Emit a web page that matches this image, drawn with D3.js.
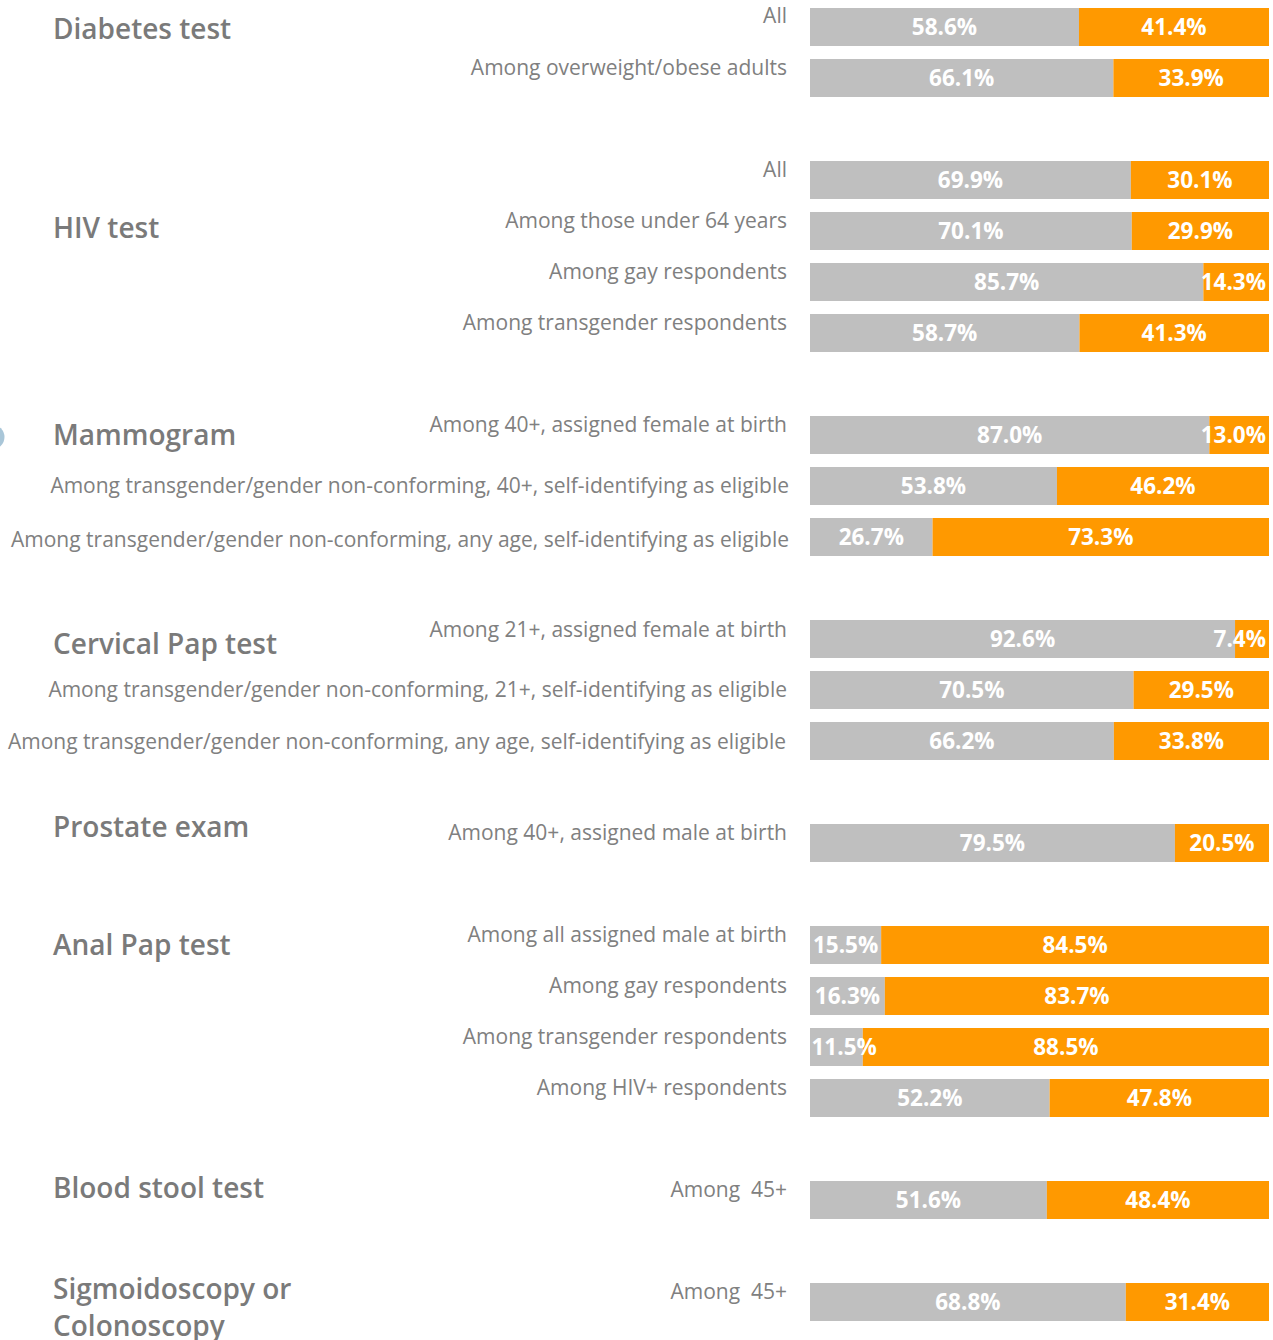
<!DOCTYPE html>
<html><head><meta charset="utf-8">
<script src="https://cdn.jsdelivr.net/npm/d3@7"></script>
<style>html,body{margin:0;padding:0;background:#fff;overflow:hidden}</style>
</head><body>
<svg id="chart" width="1273" height="1340"></svg>
<script>
const groups = ["Diabetes test","HIV test","Mammogram","Cervical Pap test","Prostate exam","Anal Pap test","Blood stool test","Sigmoidoscopy or Colonoscopy"];
const rowLabels = [
 "All","Among overweight/obese adults",
 "All","Among those under 64 years","Among gay respondents","Among transgender respondents",
 "Among 40+, assigned female at birth","Among transgender/gender non-conforming, 40+, self-identifying as eligible","Among transgender/gender non-conforming, any age, self-identifying as eligible",
 "Among 21+, assigned female at birth","Among transgender/gender non-conforming, 21+, self-identifying as eligible","Among transgender/gender non-conforming, any age, self-identifying as eligible",
 "Among 40+, assigned male at birth",
 "Among all assigned male at birth","Among gay respondents","Among transgender respondents","Among HIV+ respondents",
 "Among  45+",
 "Among  45+"
];
const rowGroup = [0,0, 1,1,1,1, 2,2,2, 3,3,3, 4, 5,5,5,5, 6, 7];
const grayValues   = [58.6,66.1, 69.9,70.1,85.7,58.7, 87.0,53.8,26.7, 92.6,70.5,66.2, 79.5, 15.5,16.3,11.5,52.2, 51.6, 68.8];
const orangeValues = [41.4,33.9, 30.1,29.9,14.3,41.3, 13.0,46.2,73.3, 7.4,29.5,33.8, 20.5, 84.5,83.7,88.5,47.8, 48.4, 31.4];

// layout (not data)
const labelOffset = [-11,-10, -10,-10,-10,-10, -10,0,3, -9,0,1, -10, -10,-10,-10,-10, -10, -10];
const labelRight  = [787,787, 787,787,787,787, 787,789,789, 787,787,786, 787, 787,787,787,787, 787, 787];
const titleOffset = [2, 48, 0, 5, -16, 0, -12, -13];

const svg = d3.select("#chart");
const slot = rowGroup.map((g,i)=>i+g);
const y = d3.scaleLinear().domain([0,25]).range([27,1302]);
const x = d3.scaleLinear().domain([0,100]).range([810,1269]);
const barH = 38;
const font = "'Open Sans', 'DejaVu Sans', sans-serif";
const textCol = "#808080";

svg.append("circle").attr("cx",-8).attr("cy",437).attr("r",12.5).attr("fill","#a9c6d8");

const rows = rowLabels.map((l,i)=>({label:l,g:rowGroup[i],gray:grayValues[i],orange:orangeValues[i],s:slot[i],i}));

const rg = svg.selectAll("g.row").data(rows).join("g").attr("class","row");
rg.append("rect").attr("x",x(0)).attr("y",d=>y(d.s)-barH/2).attr("width",d=>x(d.gray)-x(0)).attr("height",barH).attr("fill","#bfbfbf");
rg.append("rect").attr("x",d=>x(d.gray)).attr("y",d=>y(d.s)-barH/2).attr("width",d=>Math.min(x(d.gray+d.orange),x(100))-x(d.gray)).attr("height",barH).attr("fill","#ff9900");

function valueLabel(sel, cxFn, txtFn){
  sel.append("text").attr("y",d=>y(d.s)).attr("dy","0.37em")
    .attr("text-anchor","start").attr("fill","#fff").attr("font-family",font).attr("font-weight",700).attr("font-size",22.5)
    .text(txtFn)
    .each(function(d){
      const w = this.getComputedTextLength();
      let left = cxFn(d) - w/2;
      if (left + w > x(100) - 3) left = x(100) - 3 - w;
      if (left < x(0) + 1.5) left = x(0) + 1.5;
      d3.select(this).attr("x", left);
    });
}
valueLabel(rg, d=>(x(0)+x(d.gray))/2, d=>d.gray.toFixed(1)+"%");
valueLabel(rg, d=>(x(d.gray)+Math.min(x(d.gray+d.orange),x(100)))/2, d=>d.orange.toFixed(1)+"%");

rg.append("text").attr("x",d=>labelRight[d.i]).attr("y",d=>y(d.s)+labelOffset[d.i]).attr("dy","0.35em")
  .attr("text-anchor","end").attr("fill",textCol).attr("font-family",font).attr("font-size",21)
  .attr("xml:space","preserve").style("white-space","pre")
  .text(d=>d.label);

// titles
groups.forEach((gname,gi)=>{
  const first = rows.find(r=>r.g===gi);
  const cy = y(first.s)+titleOffset[gi];
  const t = svg.append("text").attr("x",53).attr("y",cy).attr("dy","0.35em")
    .attr("fill","#7a7a7a").attr("font-family",font).attr("font-weight",600).attr("font-size",28);
  if(gname==="Sigmoidoscopy or Colonoscopy"){
    t.append("tspan").attr("x",53).text("Sigmoidoscopy or");
    t.append("tspan").attr("x",53).attr("dy","1.33em").text("Colonoscopy");
  } else t.text(gname);
});
</script>
</body></html>
